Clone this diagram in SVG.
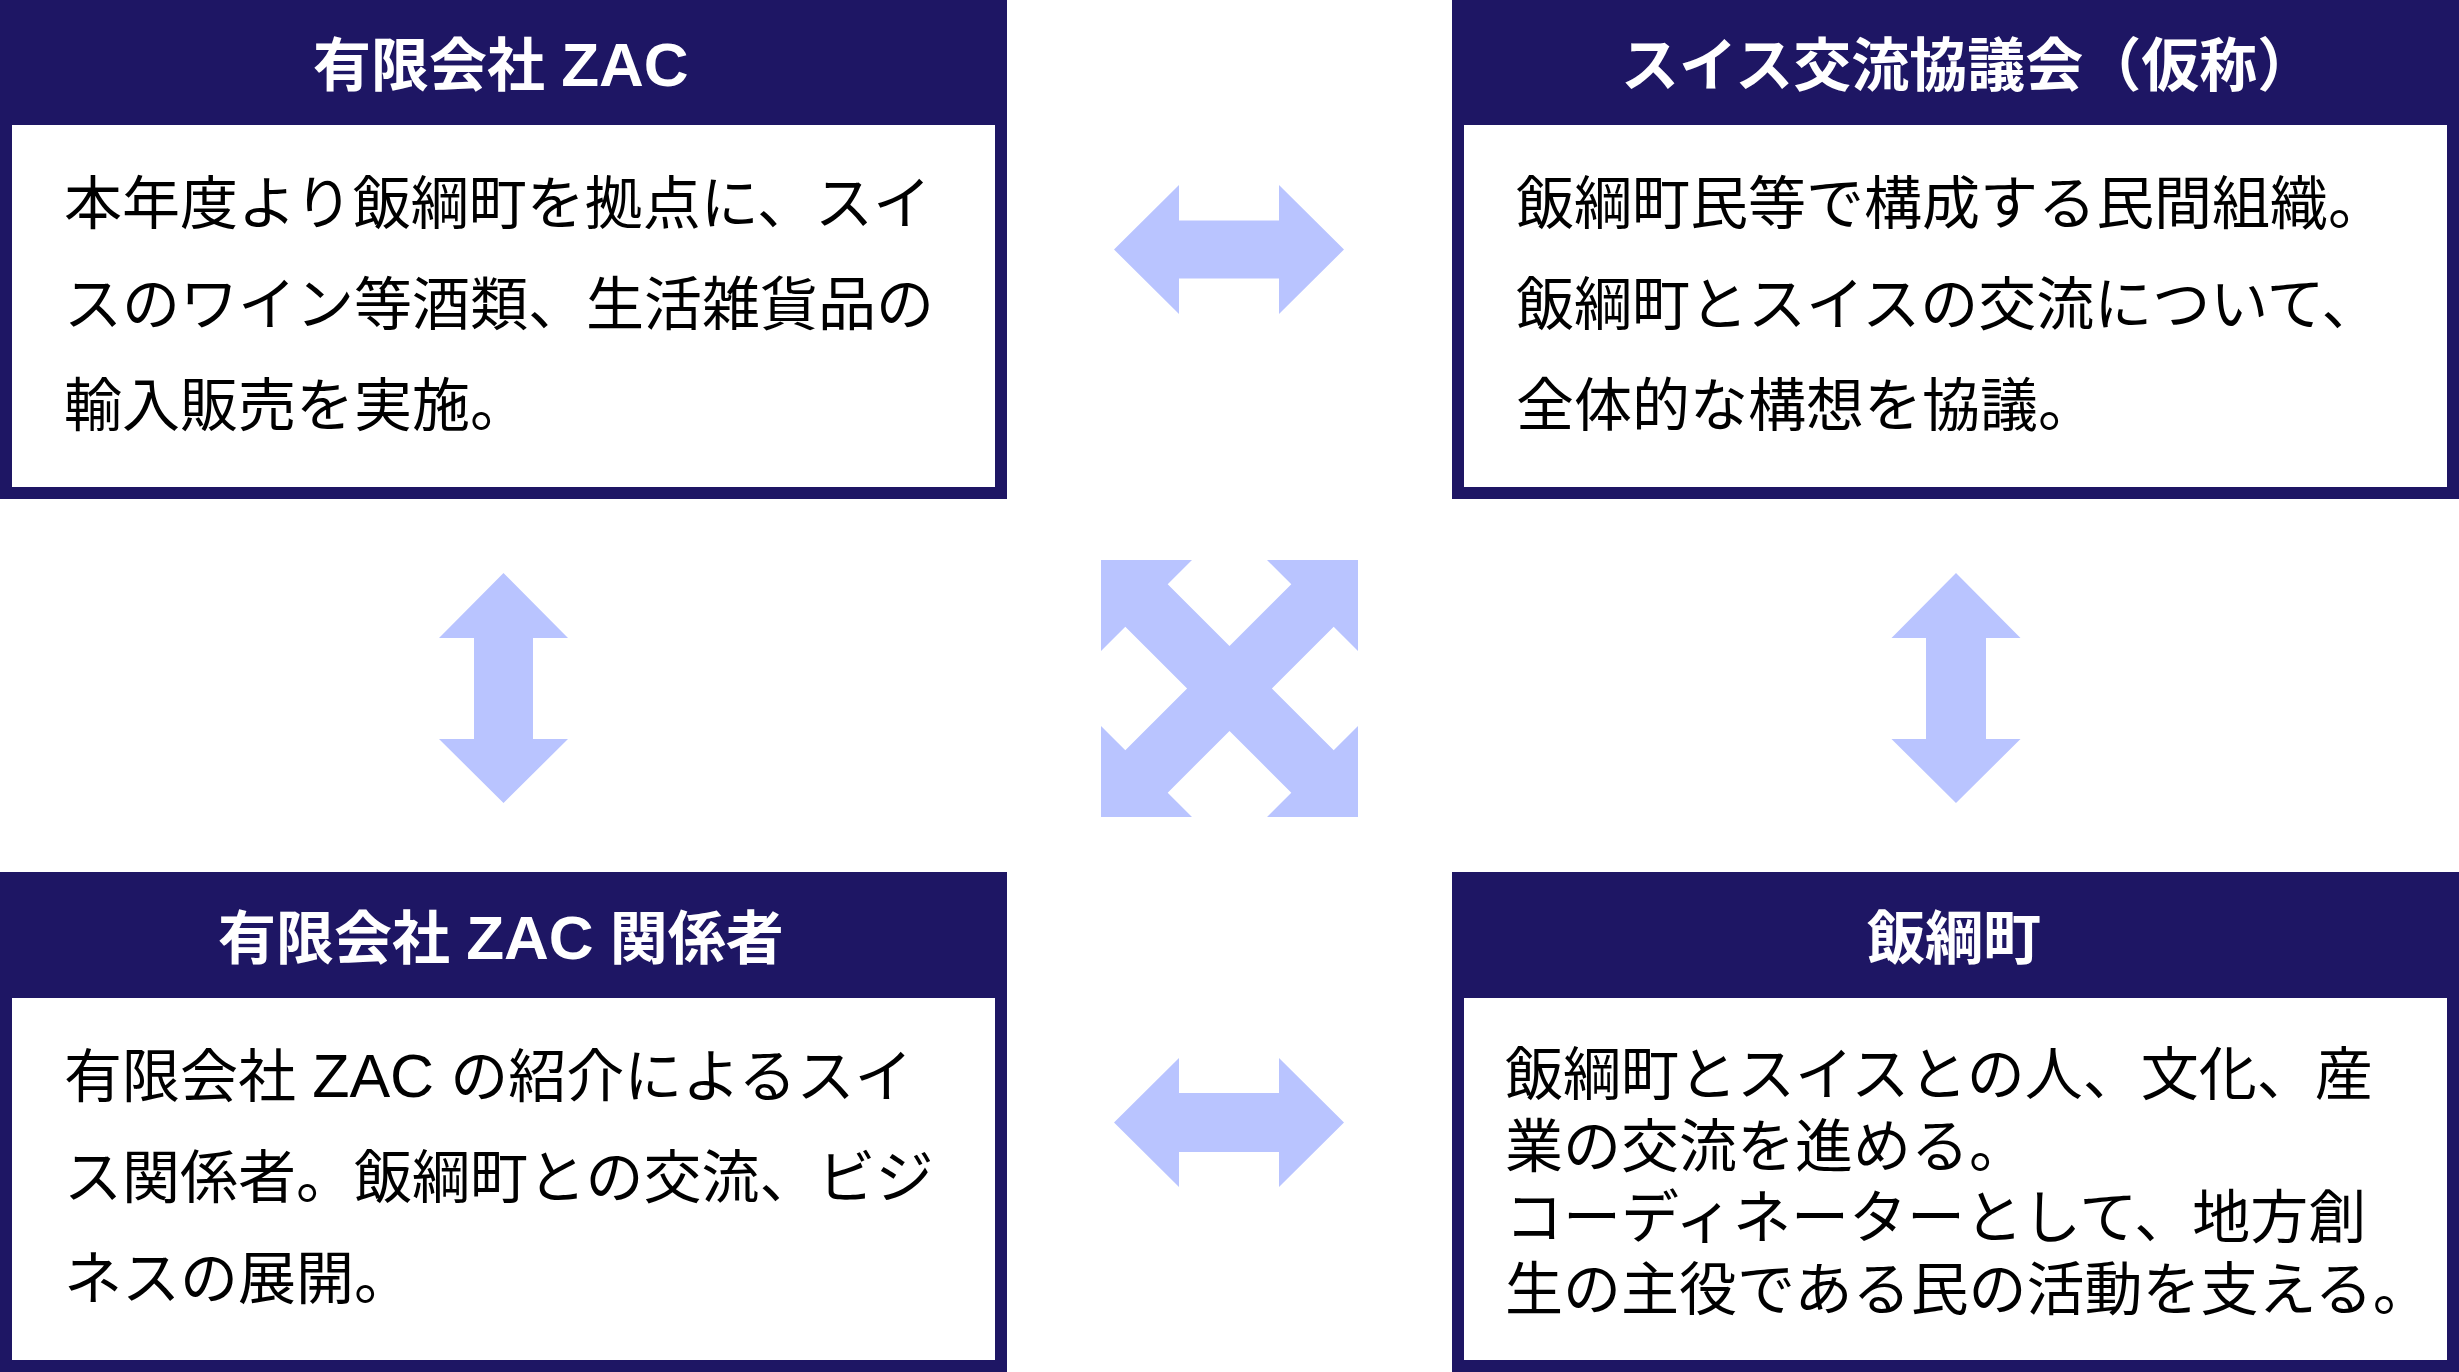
<svg xmlns="http://www.w3.org/2000/svg" width="2459" height="1372" viewBox="0 0 2459 1372">
  <style>
    .frame { fill: #1e1664; }
    .panel { fill: #ffffff; }
    .title { font-family: "Liberation Sans", "Noto Sans CJK JP", sans-serif; font-weight: bold; font-size: 58px; fill: #ffffff; }
    .mid { text-anchor: middle; }
    .lat { font-size: 62px; }
    .blat { font-size: 61px; }
    .body { font-family: "Liberation Sans", "Noto Sans CJK JP", sans-serif; font-size: 58px; fill: #000000; }
    .arrow { fill: #b9c4ff; }
  </style>
  <rect width="2459" height="1372" fill="#ffffff"/>

  <g id="node-zac">
    <rect class="frame" x="0" y="0" width="1007" height="499"/>
    <rect class="panel" x="12" y="125" width="983" height="362"/>
    <text class="title" x="313" y="86">有限会社 <tspan class="lat">ZAC</tspan></text>
    <text class="body" x="64" y="224">本年度より飯綱町を拠点に、スイ</text>
    <text class="body" x="64" y="325">スのワイン等酒類、生活雑貨品の</text>
    <text class="body" x="64" y="426">輸入販売を実施。</text>
  </g>

  <g id="node-council">
    <rect class="frame" x="1452" y="0" width="1007" height="499"/>
    <rect class="panel" x="1464" y="125" width="983" height="362"/>
    <text class="title" x="1621" y="86">スイス交流協議会（仮称）</text>
    <text class="body" x="1516" y="224">飯綱町民等で構成する民間組織。</text>
    <text class="body" x="1516" y="325">飯綱町とスイスの交流について、</text>
    <text class="body" x="1516" y="426">全体的な構想を協議。</text>
  </g>

  <g id="node-zac-related">
    <rect class="frame" x="0" y="872" width="1007" height="500"/>
    <rect class="panel" x="12" y="998" width="983" height="362"/>
    <text class="title" x="218" y="959">有限会社 <tspan class="lat">ZAC</tspan> 関係者</text>
    <text class="body" x="64" y="1097">有限会社 <tspan class="blat">ZAC</tspan> の紹介によるスイ</text>
    <text class="body" x="64" y="1198">ス関係者。飯綱町との交流、ビジ</text>
    <text class="body" x="64" y="1299">ネスの展開。</text>
  </g>

  <g id="node-iizuna">
    <rect class="frame" x="1452" y="872" width="1007" height="500"/>
    <rect class="panel" x="1464" y="998" width="983" height="362"/>
    <text class="title mid" x="1954" y="959">飯綱町</text>
    <text class="body" x="1505" y="1095">飯綱町とスイスとの人、文化、産</text>
    <text class="body" x="1505" y="1166.5">業の交流を進める。</text>
    <text class="body" x="1505" y="1238">コーディネーターとして、地方創</text>
    <text class="body" x="1505" y="1309.5">生の主役である民の活動を支える。</text>
  </g>

  <g id="connectors">
    <polygon class="arrow" points="1114,249.5 1179,185 1179,220.5 1279,220.5 1279,185 1344,249.5 1279,314 1279,278.5 1179,278.5 1179,314"/>
    <polygon class="arrow" points="1114,1122.5 1179,1058 1179,1093 1279,1093 1279,1058 1344,1122.5 1279,1187 1279,1152 1179,1152 1179,1187"/>
    <polygon class="arrow" points="503.5,573 568,638 533,638 533,739 568,739 503.5,803 439,739 474,739 474,638 439,638"/>
    <polygon class="arrow" points="1956,573 2020.5,638 1986,638 1986,739 2020.5,739 1956,803 1891.5,739 1926,739 1926,638 1891.5,638"/>
    <polygon class="arrow" points="1101,560 1192,560 1167.7,584.3 1229.5,646.1 1291.3,584.3 1267,560 1358,560 1358,651 1333.7,626.7 1271.9,688.5 1333.7,750.3 1358,726 1358,817 1267,817 1291.3,792.7 1229.5,730.9 1167.7,792.7 1192,817 1101,817 1101,726 1125.3,750.3 1187.1,688.5 1125.3,626.7 1101,651"/>
  </g>
</svg>
